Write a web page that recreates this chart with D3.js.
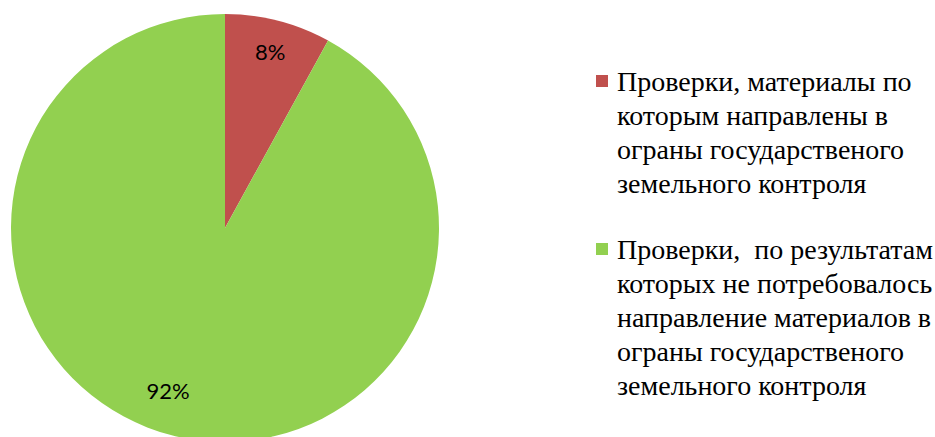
<!DOCTYPE html>
<html>
<head>
<meta charset="utf-8">
<script src="https://cdn.jsdelivr.net/npm/d3@7"></script>
<style>
  html, body { margin: 0; padding: 0; background: #fff; }
  svg { display: block; }
</style>
</head>
<body>
<svg id="chart"></svg>
<script>
// данные диаграммы
var categories = [
  ["Проверки, материалы по", "которым направлены в", "ограны государственого", "земельного контроля"],
  ["Проверки,\u00a0 по результатам", "которых не потребовалось", "направление материалов в", "ограны государственого", "земельного контроля"]
];
var values = [8, 92];
var labels = ["8%", "92%"];
var colors = ["#C0504D", "#92D050"];

var width = 935, height = 437;
var cx = 225, cy = 228, radius = 214;

var svg = d3.select("#chart")
    .attr("width", width)
    .attr("height", height);

var pie = d3.pie().sort(null).value(function(d){ return d; });
var arcs = pie(values);

var arc = d3.arc().innerRadius(0).outerRadius(radius);
// подписи ставим чуть по-разному, как в исходнике
var labelR = [0.85, 0.79];

var g = svg.append("g")
    .attr("transform", "translate(" + cx + "," + cy + ")");

g.selectAll("path")
    .data(arcs)
    .enter().append("path")
    .attr("d", arc)
    .attr("fill", function(d, i){ return colors[i]; });

g.selectAll("text")
    .data(arcs)
    .enter().append("text")
    .attr("transform", function(d, i){
        var la = d3.arc().innerRadius(radius * labelR[i]).outerRadius(radius * labelR[i]);
        return "translate(" + la.centroid(d) + ")"; })
    .attr("text-anchor", function(d, i){ return i == 1 ? "end" : "middle"; })
    .attr("dx", function(d, i){ return i == 1 ? "0.3em" : 0; })
    .attr("dy", "0.35em")
    .attr("font-family", "Lato, 'Open Sans', sans-serif")
    .attr("font-size", 22)
    .attr("fill", "#000")
    .text(function(d, i){ return labels[i]; });

// легенда
var lineH = 34;
var legendTop = [82, 250];
var legend = svg.append("g");
var item = legend.selectAll("g")
    .data(categories)
    .enter().append("g")
    .attr("transform", function(d, i){ return "translate(596," + legendTop[i] + ")"; });

item.append("rect")
    .attr("x", 0).attr("y", -7)
    .attr("width", 12).attr("height", 12)
    .attr("fill", function(d, i){ return colors[i]; });

item.selectAll("text")
    .data(function(d){ return d; })
    .enter().append("text")
    .attr("x", 21)
    .attr("y", function(d, j){ return j * lineH; })
    .attr("dy", "0.32em")
    .attr("font-family", "'Liberation Serif', 'Times New Roman', serif")
    .attr("font-size", 28)
    .attr("fill", "#000")
    .style("white-space", "pre")
    .text(function(d){ return d; });
</script>
</body>
</html>
